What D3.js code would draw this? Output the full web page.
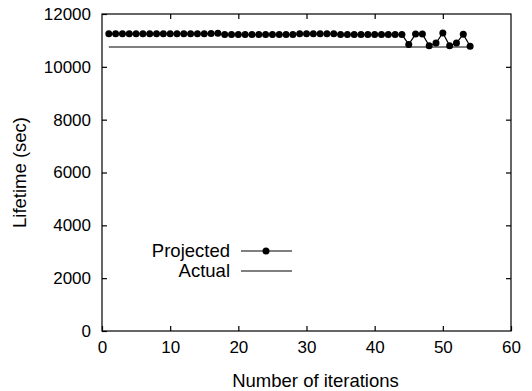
<!DOCTYPE html>
<html><head><meta charset="utf-8">
<script src="https://cdn.jsdelivr.net/npm/d3@7"></script>
<style>
body{margin:0;background:#fff}
text{font-family:"Liberation Sans",Arial,sans-serif;fill:#000}
</style></head><body>
<svg id="c" width="532" height="391"></svg>
<script>
const iterations = d3.range(1, 55);
const projected = [
  11250,11250,11250,11250,11250,11250,11250,11250,11250,11250,
  11250,11250,11250,11250,11250,11260,11270,11220,11220,11220,
  11220,11220,11220,11220,11220,11220,11220,11220,11250,11250,
  11250,11250,11250,11250,11220,11220,11220,11220,11220,11220,
  11220,11220,11220,11220,10850,11240,11240,10800,10900,11280,
  10800,10900,11230,10780
];
const actual = iterations.map(() => 10750);
const xTicks = [0,10,20,30,40,50,60];
const yTicks = [0,2000,4000,6000,8000,10000,12000];
const seriesNames = ["Projected","Actual"];

const svg = d3.select("#c");
const L=102,R=511,T=14,B=331;
const x = d3.scaleLinear().domain([0,60]).range([L,R]);
const y = d3.scaleLinear().domain([0,12000]).range([B,T]);
const fs = 17, fl = 18.5;

svg.append("rect").attr("x",L).attr("y",T).attr("width",R-L).attr("height",B-T)
  .attr("fill","none").attr("stroke","#000").attr("stroke-width",1.2);

const ax = (g)=>g.selectAll(".domain").remove();
svg.append("g").attr("transform",`translate(0,${B})`)
  .call(d3.axisBottom(x).tickValues(xTicks).tickSize(-5).tickPadding(10).tickFormat(d3.format("d")))
  .call(ax).call(g=>g.selectAll("text").attr("font-size",fs).attr("font-family","Liberation Sans"))
  .call(g=>g.selectAll("line").attr("stroke-width",1.2));
svg.append("g").attr("transform",`translate(0,${T})`)
  .call(d3.axisTop(x).tickValues(xTicks.slice(1,-1)).tickSize(-5).tickFormat(""))
  .call(ax).call(g=>g.selectAll("line").attr("stroke-width",1.2));
svg.append("g").attr("transform",`translate(${L},0)`)
  .call(d3.axisLeft(y).tickValues(yTicks).tickSize(-5).tickPadding(11).tickFormat(d3.format("d")))
  .call(ax).call(g=>g.selectAll("text").attr("font-size",fs).attr("font-family","Liberation Sans"))
  .call(g=>g.selectAll("line").attr("stroke-width",1.2));
svg.append("g").attr("transform",`translate(${R},0)`)
  .call(d3.axisRight(y).tickValues(yTicks.slice(1,-1)).tickSize(-5).tickFormat(""))
  .call(ax).call(g=>g.selectAll("line").attr("stroke-width",1.2));

svg.append("text").attr("x",(L+R)/2+9).attr("y",387).attr("text-anchor","middle")
  .attr("font-size",fl).text("Number of iterations");
svg.append("text").attr("transform",`translate(26,${(T+B)/2}) rotate(-90)`)
  .attr("text-anchor","middle").attr("font-size",fl).text("Lifetime (sec)");

const line = d3.line().x((d,i)=>x(iterations[i])).y(d=>y(d));
svg.append("path").datum(actual).attr("d",line).attr("fill","none").attr("stroke","#000").attr("stroke-width",1.2);
svg.append("path").datum(projected).attr("d",line).attr("fill","none").attr("stroke","#000").attr("stroke-width",1.2);
svg.append("g").selectAll("circle").data(projected).join("circle")
  .attr("cx",(d,i)=>x(iterations[i])).attr("cy",d=>y(d)).attr("r",3.5).attr("fill","#000");

const lg = svg.append("g");
const ly = [251,271];
seriesNames.forEach((n,i)=>{
  lg.append("text").attr("x",230).attr("y",ly[i]).attr("dy","0.35em").attr("text-anchor","end")
    .attr("font-size",fl).text(n);
  lg.append("line").attr("x1",241).attr("x2",292).attr("y1",ly[i]).attr("y2",ly[i])
    .attr("stroke","#000").attr("stroke-width",1.2);
});
lg.append("circle").attr("cx",266).attr("cy",ly[0]).attr("r",3.5).attr("fill","#000");
</script></body></html>
